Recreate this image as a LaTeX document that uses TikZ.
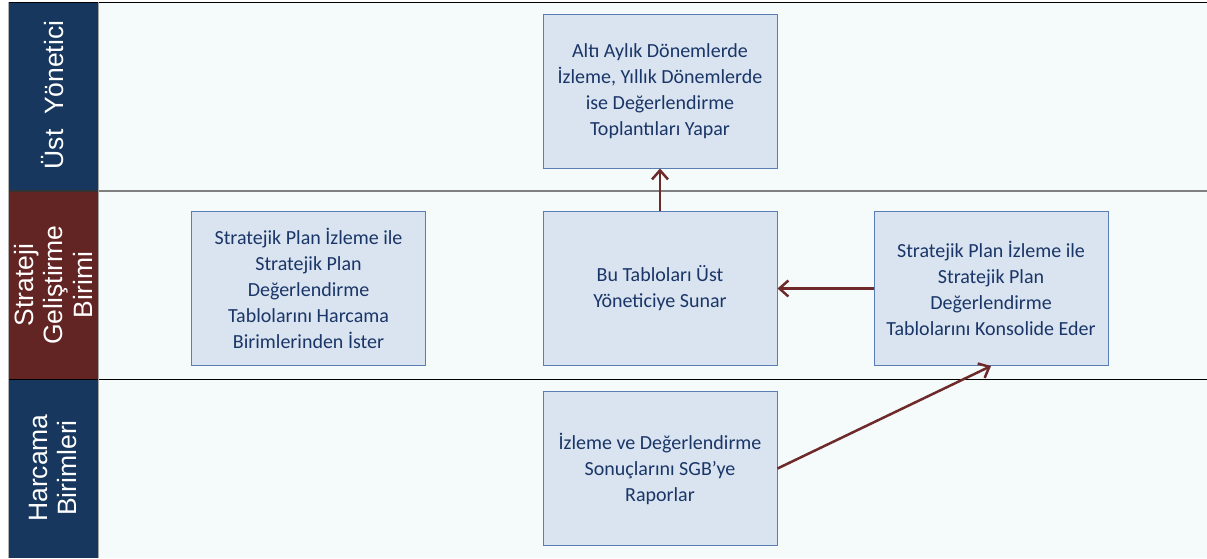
\documentclass[tikz,border=0pt]{standalone}
\usepackage{fontspec}
\setmainfont{Carlito}
\newfontfamily\lanefont{Liberation Sans}
\usetikzlibrary{arrows.meta}
\definecolor{lanenavy}{HTML}{17375E}
\definecolor{lanemaroon}{HTML}{632523}
\definecolor{lanebg}{HTML}{F5FAFB}
\definecolor{boxfill}{HTML}{D9E4F0}
\definecolor{boxline}{HTML}{5A7DB4}
\definecolor{boxtext}{HTML}{1A3567}
\definecolor{flowred}{HTML}{6E2A2A}
\tikzset{
  stepbox/.style={draw=boxline, line width=1pt, fill=boxfill, text=boxtext,
    minimum width=234pt, minimum height=154pt, inner sep=0pt, align=center,
    font=\fontsize{20}{26}\selectfont},
  lanelabel/.style={rotate=90, text=white, align=center,
    font=\lanefont\fontsize{26.5}{29.5}\selectfont},
  flow/.style={draw=flowred, line width=2.5pt,
    -{Straight Barb[length=9pt,width=16pt,line width=2.5pt]}}
}
\begin{document}
\begin{tikzpicture}[x=1pt,y=-1pt]
  \useasboundingbox (0,0) rectangle (1207,558);
  \fill[white] (0,0) rectangle (1207,558);
  % swimlane body
  \fill[lanebg] (98,2) rectangle (1207,558);
  % header cells
  \fill[lanenavy] (8,2) rectangle (98,191);
  \fill[lanemaroon] (8,191) rectangle (98,379);
  \fill[lanenavy] (8,379) rectangle (98,558);
  % lane borders
  \draw[black, line width=1.6pt] (8,2.5) -- (1207,2.5);
  \draw[gray, line width=2pt] (98,191) -- (1207,191);
  \draw[black!80, line width=1.2pt] (8,191) -- (98,191);
  \draw[black, line width=1pt] (8,379) -- (1207,379);
  \draw[gray!70, line width=0.8pt] (98,2) -- (98,558);
  \draw[gray!60, line width=0.8pt] (8,2) -- (8,558);
  % lane titles
  \node[lanelabel] (lab1) at (53,95) {Üst~~Yönetici};
  \node[lanelabel] (lab2) at (53,285) {Strateji\\Geliştirme\\Birimi};
  \node[lanelabel] (lab3) at (53,468) {Harcama\\Birimleri};
  % process steps
  \node[stepbox] (top) at (660,91) {Altı Aylık Dönemlerde\\İzleme, Yıllık Dönemlerde\\ise Değerlendirme\\Toplantıları Yapar};
  \node[stepbox] (left) at (308.5,288.5) {Stratejik Plan İzleme ile\\Stratejik Plan\\Değerlendirme\\Tablolarını Harcama\\Birimlerinden İster};
  \node[stepbox] (mid) at (660,288.5) {Bu Tabloları Üst\\Yöneticiye Sunar};
  \node[stepbox] (right) at (991,288.5) {Stratejik Plan İzleme ile\\Stratejik Plan\\Değerlendirme\\Tablolarını Konsolide Eder};
  \node[stepbox] (bot) at (660,468.5) {İzleme ve Değerlendirme\\Sonuçlarını SGB’ye\\Raporlar};
  % flow
  \draw[flow] (mid.north) -- (top.south);
  \draw[flow] (right.west) -- (mid.east);
  \draw[flow] (bot.east) -- (right.south);
\end{tikzpicture}
\end{document}
